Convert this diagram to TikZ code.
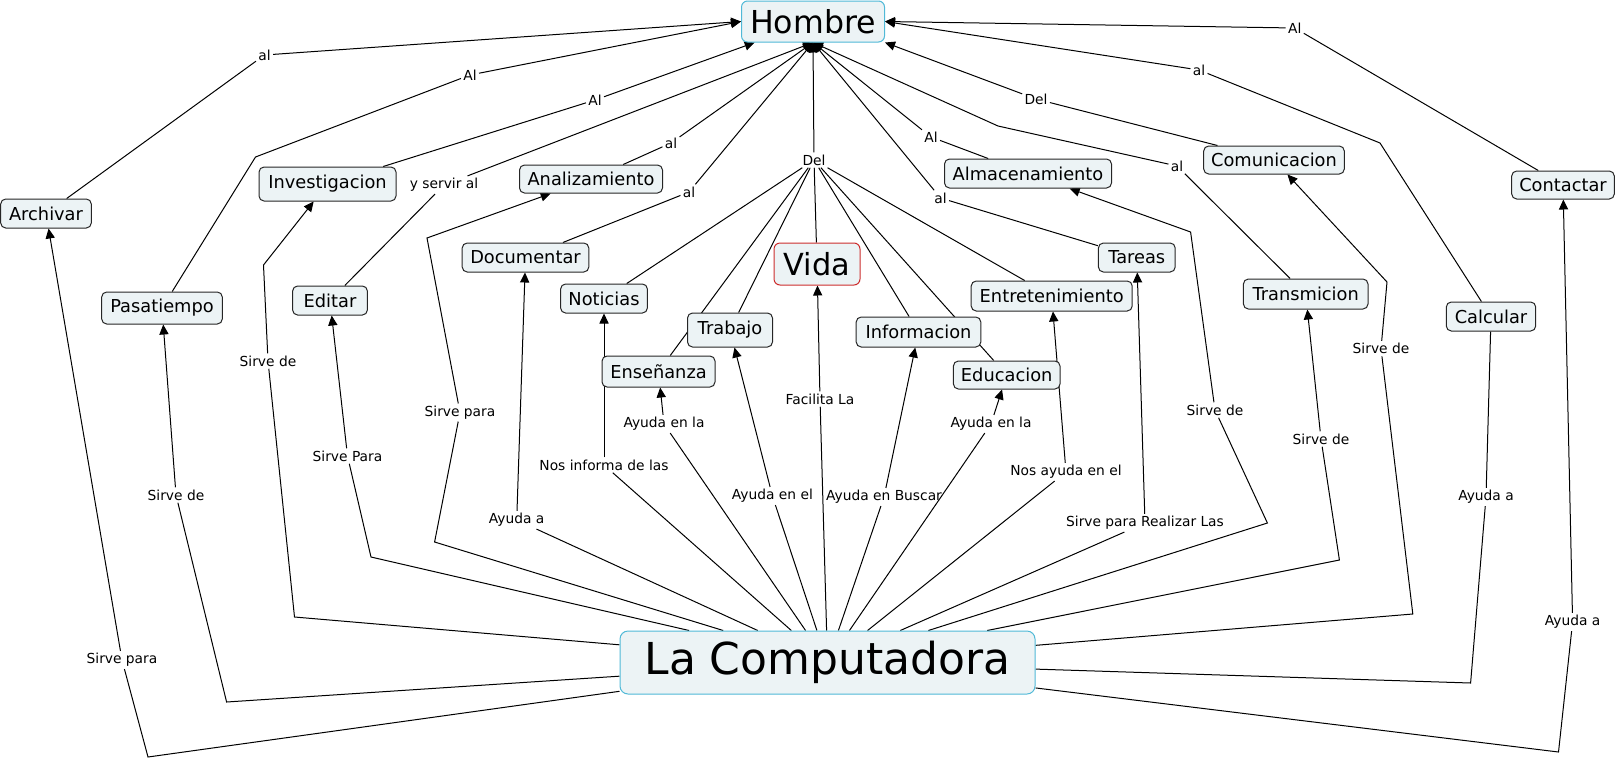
\documentclass[tikz,border=0pt]{standalone}
\usepackage{fontspec}
\setmainfont{DejaVu Sans}
\usetikzlibrary{arrows.meta,backgrounds}
\definecolor{cfill}{RGB}{236,243,245}
\definecolor{hblue}{RGB}{80,185,215}
\definecolor{vred}{RGB}{205,45,45}
\begin{document}
\begin{tikzpicture}[x=0.5pt,y=-0.5pt,
  concept/.style={draw=black!85, line width=0.5pt, fill=cfill, rounded corners=2.5pt, inner sep=0pt, font=\fontsize{8.9}{10}\selectfont},
  big/.style={concept, draw=hblue},
  lab/.style={inner sep=1pt, font=\fontsize{6.9}{8}\selectfont},
  conn/.style={line width=0.5pt, draw=black},
  arr/.style={conn, -{Triangle[length=5pt,width=4.6pt]}},
]
\useasboundingbox (0,0) rectangle (1617,761);
% ---------- concepts ----------
\node[big, rounded corners=3pt, minimum width=71.5pt, minimum height=20.5pt, font=\fontsize{15.8}{18}\selectfont] (H) at (813,21.5) {Hombre};
\node[big, rounded corners=4pt, minimum width=207.5pt, minimum height=31.5pt, font=\fontsize{22}{26}\selectfont] (LC) at (827.5,662.5) {La Computadora};
\node[concept, draw=vred, rounded corners=3pt, minimum width=43pt, minimum height=21pt, font=\fontsize{15.2}{18}\selectfont] (Vi) at (817,264) {Vida};
\node[concept, minimum width=45.3pt, minimum height=14.5pt] (Ar) at (46,213.5) {Archivar};
\node[concept, minimum width=68.5pt, minimum height=17pt] (In) at (327.5,184) {Investigacion};
\node[concept, minimum width=71.5pt, minimum height=14pt] (An) at (591,179) {Analizamiento};
\node[concept, minimum width=83.5pt, minimum height=14.5pt] (Al) at (1028,173.5) {Almacenamiento};
\node[concept, minimum width=70.3pt, minimum height=14pt] (Co) at (1274,160) {Comunicacion};
\node[concept, minimum width=51.3pt, minimum height=14pt] (Ct) at (1563,185) {Contactar};
\node[concept, minimum width=63.3pt, minimum height=14.5pt] (Do) at (525.5,257.5) {Documentar};
\node[concept, minimum width=60.3pt, minimum height=16pt] (Pa) at (162,308) {Pasatiempo};
\node[concept, minimum width=37.4pt, minimum height=14.5pt] (Ed) at (330,300.5) {Editar};
\node[concept, minimum width=43.4pt, minimum height=14.5pt] (No) at (604,298.5) {Noticias};
\node[concept, minimum width=42.5pt, minimum height=17pt] (Tr) at (730,330) {Trabajo};
\node[concept, minimum width=56.5pt, minimum height=15.5pt] (En) at (658.5,371.5) {Enseñanza};
\node[concept, minimum width=62.3pt, minimum height=15pt] (If) at (918.5,332) {Informacion};
\node[concept, minimum width=53.3pt, minimum height=14pt] (Eu) at (1006.7,375) {Educacion};
\node[concept, minimum width=80.5pt, minimum height=15pt] (Et) at (1051.7,296) {Entretenimiento};
\node[concept, minimum width=38.4pt, minimum height=14.5pt] (Ta) at (1136.8,257.5) {Tareas};
\node[concept, minimum width=62.3pt, minimum height=15pt] (Tm) at (1305.7,294) {Transmicion};
\node[concept, minimum width=44.7pt, minimum height=14.5pt] (Ca) at (1491,316.5) {Calcular};
% ---------- linking phrases (top) ----------
\node[lab] (tAr) at (264.5,55) {al};
\node[lab] (tPa) at (470,75) {Al};
\node[lab] (tIn) at (595,100) {Al};
\node[lab] (tEd) at (444,185) {y servir al};
\node[lab] (tAn) at (671,143) {al};
\node[lab] (tDo) at (689,192) {al};
\node[lab] (tDel) at (814,160) {Del};
\node[lab] (tAl) at (931,137) {Al};
\node[lab] (tTa) at (940.5,198) {al};
\node[lab] (tCo) at (1036,99) {Del};
\node[lab] (tTm) at (1177,166) {al};
\node[lab] (tCa) at (1199,70) {al};
\node[lab] (tCt) at (1294.7,28) {Al};
% ---------- linking phrases (bottom) ----------
\node[lab] (sAr) at (122,660) {Sirve para};
\node[lab] (sPa) at (176,495) {Sirve de};
\node[lab] (sIn) at (268,361) {Sirve de};
\node[lab] (sEd) at (347.5,456) {Sirve Para};
\node[lab] (sAn) at (460,412.5) {Sirve para};
\node[lab] (sDo) at (516.7,520) {Ayuda a};
\node[lab] (sNo) at (604,465) {Nos informa de las};
\node[lab] (sEn) at (664,424) {Ayuda en la};
\node[lab] (sTr) at (772.4,496) {Ayuda en el};
\node[lab] (sVi) at (820,399) {Facilita La};
\node[lab] (sIf) at (884,497) {Ayuda en Buscar};
\node[lab] (sEu) at (991,424) {Ayuda en la};
\node[lab] (sEt) at (1066,472) {Nos ayuda en el};
\node[lab] (sTa) at (1145,523) {Sirve para Realizar Las};
\node[lab] (sAl) at (1215,410) {Sirve de};
\node[lab] (sTm) at (1321,439) {Sirve de};
\node[lab] (sCo) at (1381,348.6) {Sirve de};
\node[lab] (sCa) at (1486,497) {Ayuda a};
\node[lab] (sCt) at (1572.6,622) {Ayuda a};
% ---------- bend points ----------
\coordinate (bPa1) at (255.5,157);
\coordinate (bTm1) at (998,126);
\coordinate (bCa1) at (1380,143);
\coordinate (bAr) at (148,757);
\coordinate (bPa) at (226.6,702);
\coordinate (bIn1) at (294.5,617);
\coordinate (bIn2) at (263.5,265);
\coordinate (bEd) at (371,557);
\coordinate (bAn1) at (434.6,542);
\coordinate (bAn2) at (427,238);
\coordinate (bAl2) at (1267.4,523);
\coordinate (bAl1) at (1190.6,232);
\coordinate (bTm) at (1339.4,560);
\coordinate (bCo2) at (1412.8,614);
\coordinate (bCo1) at (1387,282);
\coordinate (bCa) at (1470.6,683);
\coordinate (bCt) at (1558.5,752);
% ---------- connectors ----------
\begin{scope}[on background layer]
% to Hombre
\draw[conn] (Ar) -- (tAr); \draw[arr] (tAr) -- (H.west);
\draw[conn] (Pa) -- (bPa1) -- (tPa); \draw[arr] (tPa) -- (H.west);
\draw[conn] (In) -- (tIn); \draw[arr] (tIn) -- (H);
\draw[conn] (Ed) -- (tEd); \draw[arr] (tEd) -- (H.south);
\draw[conn] (An) -- (tAn); \draw[arr] (tAn) -- (H.south);
\draw[conn] (Do) -- (tDo); \draw[arr] (tDo) -- (H.south);
\draw[arr] (tDel) -- (H.south);
\foreach \n in {No,En,Tr,Vi,If,Eu,Et} \draw[conn] (tDel) -- (\n);
\draw[conn] (Al) -- (tAl); \draw[arr] (tAl) -- (H.south);
\draw[conn] (Ta) -- (tTa); \draw[arr] (tTa) -- (H.south);
\draw[conn] (Co) -- (tCo); \draw[arr] (tCo) -- (H.south east);
\draw[conn] (Tm) -- (tTm); \draw[arr] (tTm) -- (bTm1) -- (H.south);
\draw[conn] (Ca) -- (bCa1) -- (tCa); \draw[arr] (tCa) -- (H.east);
\draw[conn] (Ct) -- (tCt); \draw[arr] (tCt) -- (H.east);
% from La Computadora
\draw[conn] (LC) -- (bAr) -- (sAr); \draw[arr] (sAr) -- (Ar);
\draw[conn] (LC) -- (bPa) -- (sPa); \draw[arr] (sPa) -- (Pa);
\draw[conn] (LC) -- (bIn1) -- (sIn); \draw[arr] (sIn) -- (bIn2) -- (In);
\draw[conn] (LC) -- (bEd) -- (sEd); \draw[arr] (sEd) -- (Ed);
\draw[conn] (LC) -- (bAn1) -- (sAn); \draw[arr] (sAn) -- (bAn2) -- (An);
\draw[conn] (LC) -- (sDo); \draw[arr] (sDo) -- (Do);
\draw[conn] (LC) -- (sNo); \draw[arr] (sNo) -- (No);
\draw[conn] (LC) -- (sEn); \draw[arr] (sEn) -- (En);
\draw[conn] (LC) -- (sTr); \draw[arr] (sTr) -- (Tr);
\draw[conn] (LC) -- (sVi); \draw[arr] (sVi) -- (Vi);
\draw[conn] (LC) -- (sIf); \draw[arr] (sIf) -- (If);
\draw[conn] (LC) -- (sEu); \draw[arr] (sEu) -- (Eu);
\draw[conn] (LC) -- (sEt); \draw[arr] (sEt) -- (Et);
\draw[conn] (LC) -- (sTa); \draw[arr] (sTa) -- (Ta);
\draw[conn] (LC) -- (bAl2) -- (sAl); \draw[arr] (sAl) -- (bAl1) -- (Al);
\draw[conn] (LC) -- (bTm) -- (sTm); \draw[arr] (sTm) -- (Tm);
\draw[conn] (LC) -- (bCo2) -- (sCo); \draw[arr] (sCo) -- (bCo1) -- (Co);
\draw[conn] (LC) -- (bCa) -- (sCa); \draw[conn] (sCa) -- (Ca);
\draw[conn] (LC) -- (bCt) -- (sCt); \draw[arr] (sCt) -- (Ct);
\end{scope}
\end{tikzpicture}
\end{document}
